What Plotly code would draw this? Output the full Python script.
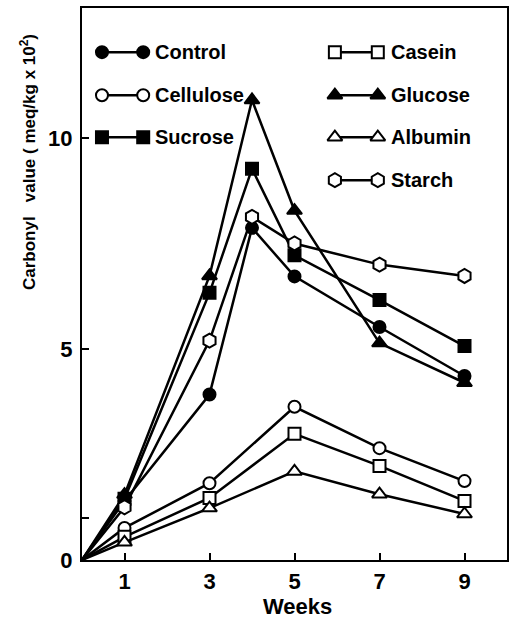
import plotly.graph_objects as go

weeks_hi = [0, 1, 3, 4, 5, 7, 9]
weeks_lo = [0, 1, 3, 5, 7, 9]

control = [0, 1.40, 3.92, 7.87, 6.72, 5.52, 4.36]
glucose = [0, 1.55, 6.73, 10.9, 8.28, 5.14, 4.20]
sucrose = [0, 1.45, 6.33, 9.27, 7.22, 6.16, 5.07]
starch = [0, 1.25, 5.20, 8.13, 7.50, 7.00, 6.73]
cellulose = [0, 0.76, 1.82, 3.63, 2.65, 1.87]
casein = [0, 0.55, 1.47, 2.99, 2.23, 1.40]
albumin = [0, 0.42, 1.23, 2.10, 1.56, 1.09]

x_ticks = [1, 3, 5, 7, 9]
y_ticks = [0, 1, 5, 10]
y_ticktext = ["0", "", "5", "10"]

FONT = "Liberation Sans"
BLACK = "black"
SIZES = {"circle": 12, "square": 12, "triangle-up": 13, "hexagon": 14}

series = [
    ("Control", weeks_hi, control, "circle", BLACK),
    ("Cellulose", weeks_lo, cellulose, "circle", "white"),
    ("Sucrose", weeks_hi, sucrose, "square", BLACK),
    ("Casein", weeks_lo, casein, "square", "white"),
    ("Glucose", weeks_hi, glucose, "triangle-up", BLACK),
    ("Albumin", weeks_lo, albumin, "triangle-up", "white"),
    ("Starch", weeks_hi, starch, "hexagon", "white"),
]

fig = go.Figure()
for name, xs, ys, sym, fill in series:
    sizes = [0] + [SIZES[sym]] * (len(xs) - 1)
    fig.add_trace(go.Scatter(
        x=xs, y=ys, mode="lines+markers", name=name,
        line=dict(color=BLACK, width=2.5),
        marker=dict(symbol=sym, size=sizes, color=fill, opacity=1,
                    line=dict(color=BLACK, width=2)),
        showlegend=False,
    ))

# custom legend (two columns) on an overlay axis in fractional units
legend_left = [("Control", "circle", BLACK), ("Cellulose", "circle", "white"),
               ("Sucrose", "square", BLACK)]
legend_right = [("Casein", "square", "white"), ("Glucose", "triangle-up", BLACK),
                ("Albumin", "triangle-up", "white"), ("Starch", "hexagon", "white")]
rows = [0.920, 0.842, 0.766, 0.688]
cols = [(0.047, 0.144, 0.167), (0.595, 0.696, 0.722)]

for col, items in zip(cols, [legend_left, legend_right]):
    for (name, sym, fill), ry in zip(items, rows):
        fig.add_trace(go.Scatter(
            x=[col[0], col[1]], y=[ry, ry], mode="lines+markers",
            xaxis="x2", yaxis="y2",
            line=dict(color=BLACK, width=2.5),
            marker=dict(symbol=sym, size=SIZES[sym], color=fill, opacity=1,
                        line=dict(color=BLACK, width=2)),
            showlegend=False, hoverinfo="skip",
        ))
        fig.add_annotation(x=col[2], y=ry, xref="x2", yref="y2", text=name,
                           showarrow=False, xanchor="left", yanchor="middle",
                           font=dict(family=FONT, size=20, color=BLACK,
                                     weight="bold"))

fig.add_annotation(
    x=-0.127, y=0.721, xref="paper", yref="paper",
    text="Carbonyl   value ( meq/kg x 10<sup>2</sup>)",
    textangle=-90, showarrow=False, xanchor="center", yanchor="middle",
    font=dict(family=FONT, size=17, color=BLACK, weight="bold"))

fig.add_annotation(
    x=0.508, y=-0.085, xref="paper", yref="paper", text="Weeks",
    showarrow=False, xanchor="center", yanchor="middle",
    font=dict(family=FONT, size=22, color=BLACK, weight="bold"))

fig.update_layout(
    width=513, height=631,
    margin=dict(l=82, r=6, t=8, b=71),
    paper_bgcolor="white", plot_bgcolor="white",
    font=dict(family=FONT, size=17, color=BLACK),
    xaxis=dict(range=[0, 10], tickvals=x_ticks, ticks="inside", ticklen=7,
               tickwidth=1.5, tickcolor=BLACK, showline=True, linecolor=BLACK,
               linewidth=2, mirror=True, showgrid=False, zeroline=False,
               automargin=False, ticklabelstandoff=1,
               tickfont=dict(family=FONT, size=22, color=BLACK, weight="bold")),
    yaxis=dict(range=[0, 13.08], tickvals=y_ticks, ticktext=y_ticktext,
               ticks="inside", ticklen=7, tickwidth=1.5, tickcolor=BLACK,
               showline=True, linecolor=BLACK, linewidth=2, mirror=True,
               showgrid=False, zeroline=False, automargin=False,
               ticklabelstandoff=3,
               tickfont=dict(family=FONT, size=22, color=BLACK, weight="bold")),
    xaxis2=dict(range=[0, 1], overlaying="x", visible=False, fixedrange=True),
    yaxis2=dict(range=[0, 1], overlaying="y", visible=False, fixedrange=True),
)

fig.write_html("out.html",
               config={"displayModeBar": False},
               post_script="document.body.style.margin='0';"
                           "document.body.style.padding='0';")
